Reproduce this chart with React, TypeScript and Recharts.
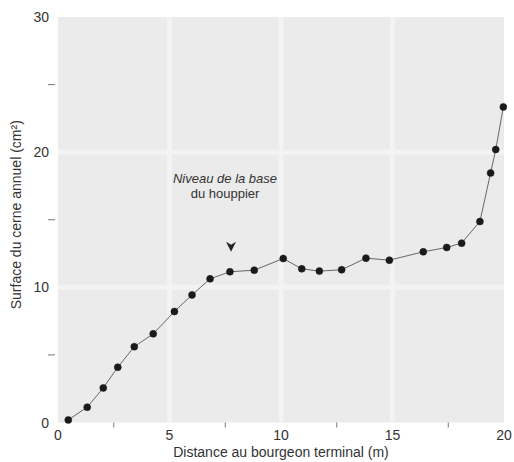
import { LineChart, Line, XAxis, YAxis, CartesianGrid, ReferenceDot, Label } from "recharts"

const distances = [0.46, 1.31, 2.03, 2.68, 3.42, 4.27, 5.22, 6.01, 6.82, 7.71, 8.8, 10.1, 10.93, 11.72, 12.72, 13.81, 14.86, 16.38, 17.43, 18.1, 18.92, 19.4, 19.63, 19.97]
const surfaces = [0.19, 1.13, 2.56, 4.09, 5.61, 6.56, 8.21, 9.44, 10.63, 11.15, 11.27, 12.13, 11.37, 11.2, 11.3, 12.16, 12.01, 12.63, 12.95, 13.27, 14.87, 18.46, 20.19, 23.35]

const xTicks = [0, 2.5, 5, 7.5, 10, 12.5, 15, 17.5, 20]
const yTicks = [0, 5, 10, 15, 20, 25, 30]
const xLabeled = [0, 5, 10, 15, 20]
const yLabeled = [0, 10, 20, 30]

const crownBase = { x: 7.76, y: 13.0 }
const noteAnchor = { x: 7.49, y: 18.0 }
const noteLines = ["Niveau de la base", "du houppier"]

const data = distances.map((d, i) => ({ d, s: surfaces[i] }))

const font = "'Liberation Sans', Arial, Helvetica, sans-serif"
const ink = "#333"

function XTick({ x, y, payload }: any) {
  const v = payload.value
  if (xLabeled.includes(v)) {
    return (
      <text x={x} y={y + 17} textAnchor="middle" fontSize={14} fill={ink} fontFamily={font}>
        {v}
      </text>
    )
  }
  return <line x1={x} x2={x} y1={y} y2={y + 5} stroke="#777" strokeWidth={1} />
}

function YTick({ x, y, payload }: any) {
  const v = payload.value
  if (yLabeled.includes(v)) {
    return (
      <text x={x - 9} y={y + 5} textAnchor="end" fontSize={14} fill={ink} fontFamily={font}>
        {v}
      </text>
    )
  }
  return <line x1={x - 10} x2={x - 3} y1={y} y2={y} stroke="#777" strokeWidth={1} />
}

function Arrowhead({ cx, cy }: any) {
  return <path d={`M${cx - 5},${cy - 5} L${cx},${cy + 5} L${cx + 5},${cy - 5} L${cx},${cy - 2} Z`} fill="#222" />
}

function Note({ cx, cy }: any) {
  return (
    <text x={cx} y={cy} textAnchor="middle" fontSize={13} fill={ink} fontFamily={font}>
      <tspan x={cx} dy={4} fontStyle="italic">{noteLines[0]}</tspan>
      <tspan x={cx} dy={15}>{noteLines[1]}</tspan>
    </text>
  )
}

export default function App() {
  return (
    <div style={{ position: "absolute", left: 0, top: 0, background: "#fff" }}>
      <LineChart width={514} height={462} data={data} margin={{ top: 17, right: 10, bottom: 10, left: 18 }}>
        <CartesianGrid
          fill="#ebebeb"
          stroke="#f3f3f3"
          strokeWidth={5}
          verticalValues={[5, 10, 15]}
          horizontalValues={[10, 20]}
        />
        <XAxis
          dataKey="d"
          type="number"
          domain={[0, 20]}
          ticks={xTicks}
          interval={0}
          axisLine={false}
          tickLine={false}
          tickSize={0}
          tickMargin={0}
          tick={<XTick />}
          height={29.5}
        >
          <Label
            value="Distance au bourgeon terminal (m)"
            position="insideBottom"
            offset={-5}
            style={{ fontSize: 14, fill: ink, fontFamily: font }}
          />
        </XAxis>
        <YAxis
          type="number"
          domain={[0, 30]}
          ticks={yTicks}
          interval={0}
          axisLine={false}
          tickLine={false}
          tickSize={0}
          tickMargin={0}
          tick={<YTick />}
          width={40}
        >
          <Label
            value="Surface du cerne annuel (cm²)"
            angle={-90}
            position="insideLeft"
            offset={-2}
            dy={-5}
            style={{ fontSize: 14, fill: ink, fontFamily: font, textAnchor: "middle" }}
          />
        </YAxis>
        <Line
          dataKey="s"
          stroke="#666"
          strokeWidth={1}
          dot={{ r: 3.5, fill: "#1a1a1a", stroke: "#1a1a1a", strokeWidth: 0.5 }}
          activeDot={false}
          isAnimationActive={false}
        />
        <ReferenceDot x={crownBase.x} y={crownBase.y} r={0} shape={<Arrowhead />} />
        <ReferenceDot x={noteAnchor.x} y={noteAnchor.y} r={0} shape={<Note />} />
      </LineChart>
    </div>
  )
}
